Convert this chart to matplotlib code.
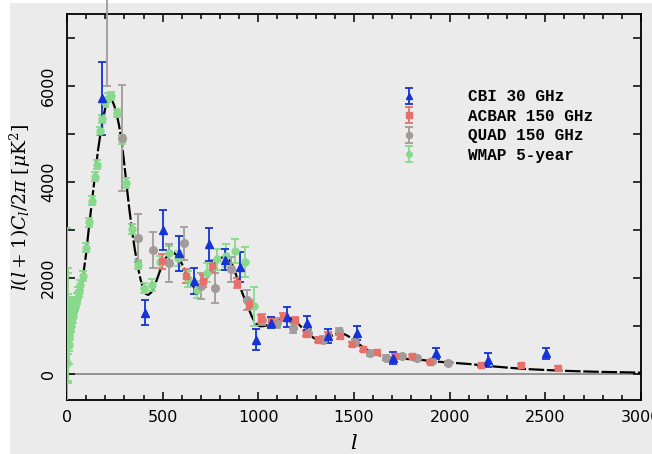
import numpy as np
import matplotlib.pyplot as plt
from matplotlib.patches import Rectangle
from matplotlib.ticker import MultipleLocator, FuncFormatter

# best-fit model curve: (l, D_l) pairs
model = [(2, 1000), (5, 980), (10, 960), (15, 970), (20, 1000), (30, 1080), (40, 1180),
         (50, 1300), (62, 1550), (75, 1800), (88, 2150), (100, 2500), (112, 2950),
         (125, 3400), (138, 3850), (150, 4250), (162, 4650), (175, 5000), (188, 5300),
         (200, 5530), (212, 5690), (222, 5740), (235, 5700), (248, 5570), (260, 5400),
         (272, 5170), (285, 4850), (297, 4450), (310, 3980), (325, 3450), (340, 2980),
         (355, 2570), (370, 2230), (385, 1950), (400, 1750), (412, 1660), (425, 1640),
         (440, 1690), (455, 1800), (470, 1960), (485, 2130), (500, 2280), (515, 2400),
         (530, 2480), (545, 2520), (560, 2510), (575, 2460), (590, 2370), (605, 2250),
         (620, 2110), (635, 1980), (650, 1870), (665, 1790), (680, 1750), (695, 1760),
         (710, 1820), (725, 1930), (740, 2060), (755, 2190), (770, 2290), (785, 2360),
         (800, 2400), (815, 2425), (830, 2430), (845, 2390), (860, 2300), (875, 2160),
         (890, 1980), (905, 1800), (920, 1640), (935, 1500), (950, 1350), (965, 1200),
         (980, 1080), (995, 1010), (1010, 985), (1030, 990), (1050, 1010), (1070, 1040),
         (1090, 1080), (1110, 1120), (1130, 1150), (1150, 1160), (1170, 1150),
         (1190, 1100), (1210, 1030), (1230, 950), (1250, 870), (1270, 800), (1290, 740),
         (1310, 710), (1330, 700), (1350, 720), (1370, 760), (1390, 800), (1410, 830),
         (1430, 840), (1450, 820), (1470, 780), (1490, 720), (1510, 660), (1530, 600),
         (1550, 540), (1575, 480), (1600, 430), (1625, 390), (1650, 360), (1675, 340),
         (1700, 325), (1750, 310), (1800, 300), (1850, 285), (1900, 265), (1950, 245),
         (2000, 230), (2100, 200), (2200, 160), (2300, 125), (2400, 95), (2500, 75),
         (2600, 58), (2700, 45), (2800, 35), (2900, 28), (3000, 20)]
model_l = [p[0] for p in model]
model_d = [p[1] for p in model]

# CBI 30 GHz
cbi_l = [181, 408, 500, 585, 664, 744, 826, 906, 986, 1065, 1152, 1252, 1366, 1518, 1706,
         1929, 2202, 2504]
cbi_d = [5730, 1265, 2990, 2510, 1920, 2690, 2375, 2220, 710, 1060, 1180, 1060, 780, 850,
         330, 420, 290, 420]
cbi_e = [750, 260, 410, 365, 270, 350, 215, 320, 220, 115, 205, 145, 150, 145, 125, 120,
         145, 120]

# ACBAR 150 GHz
acbar_l = [495, 622, 713, 756, 890, 951, 1014, 1066, 1127, 1192, 1250, 1314, 1366, 1427,
           1488, 1549, 1622, 1714, 1801, 1897, 2164, 2372, 2568]
acbar_d = [2340, 2030, 1925, 2240, 1890, 1440, 1140, 1090, 1180, 1110, 835, 710, 810, 780,
           620, 520, 450, 375, 360, 245, 170, 170, 120]
acbar_e = [160, 140, 130, 130, 110, 100, 90, 80, 75, 70, 60, 55, 55, 50, 45, 40, 38, 35,
           35, 32, 30, 30, 30]

# QUAD 150 GHz
quad_l = [207, 286, 373, 451, 533, 613, 699, 775, 855, 939, 1018, 1100, 1183, 1260, 1340,
          1423, 1505, 1584, 1668, 1749, 1828, 1906, 1993]
quad_d = [8200, 4910, 2830, 2570, 2300, 2710, 1820, 1790, 2170, 1540, 1125, 1055, 950, 845,
          710, 880, 655, 420, 330, 360, 315, 260, 225]
quad_e = [2200, 1100, 500, 370, 390, 350, 270, 310, 260, 210, 110, 100, 100, 90, 80, 80,
          70, 55, 50, 50, 45, 40, 40]

# WMAP 5-year
wmap_l = [2, 3, 4, 5, 6, 7, 8, 9, 10, 11, 12, 13, 14, 15, 16, 17, 18, 19, 20, 22, 24, 26,
          28, 30, 33, 36, 40, 45, 50, 55, 61, 70, 84, 100, 115, 130, 145, 158, 172, 185,
          200, 215, 230, 260, 286, 308, 338, 369, 402, 443, 486, 533, 582, 631, 678, 730,
          782, 829, 878, 930, 979]
wmap_d = [230, 1000, 750, 1400, 950, 1150, 600, 1200, 800, 1050, 1300, 900, 1000, 1100,
          1250, 1100, 900, 1150, 1300, 1050, 1150, 1250, 1350, 1200, 1300, 1400, 1450,
          1480, 1560, 1700, 1700, 1850, 2030, 2620, 3150, 3600, 4100, 4350, 5050, 5300,
          5650, 5750, 5780, 5430, 4875, 3970, 3010, 2270, 1780, 1850, 2320, 2510, 2400,
          1970, 1750, 2100, 2380, 2450, 2550, 2320, 1400]
wmap_e = [2800, 1200, 900, 700, 550, 450, 400, 350, 330, 300, 280, 260, 250, 240, 230, 220,
          210, 200, 200, 190, 180, 170, 160, 150, 150, 140, 130, 120, 110, 110, 100, 100,
          100, 90, 90, 90, 90, 90, 90, 90, 90, 90, 90, 90, 90, 95, 100, 100, 110, 120, 130,
          140, 150, 160, 180, 200, 220, 240, 250, 310, 410]

c_cbi = "#1533d6"
c_acbar = "#e6716b"
c_quad = "#a39b99"
c_wmap = "#88d98b"
bg = "#ebebeb"

plt.rcParams["mathtext.fontset"] = "dejavuserif"

fig = plt.figure(figsize=(6.52, 4.54), dpi=100, facecolor="white")
fig.patches.append(Rectangle((10 / 652, 0), 1, 1 - 3 / 454, transform=fig.transFigure,
                             facecolor=bg, edgecolor="none", zorder=-10))
ax = fig.add_axes([67 / 652, 1 - 400 / 454, 574 / 652, 386 / 454])
ax.set_facecolor(bg)

ax.axhline(0, color="#7a7a7a", lw=1.1, zorder=1)
ax.plot(model_l, model_d, color="black", lw=1.6, ls=(0, (7, 1.2)), zorder=2)

eb = dict(ls="none", elinewidth=1.3, capsize=2.8, capthick=1.3, zorder=3)
ax.errorbar(wmap_l, wmap_d, yerr=wmap_e, fmt="o", ms=5, color=c_wmap,
            label="WMAP 5-year", **eb)
q = ax.errorbar(quad_l, quad_d, yerr=quad_e, fmt="o", ms=5.5, color=c_quad,
                label="QUAD 150 GHz", **eb)
for part in q.lines[2]:
    part.set_clip_on(False)
ax.errorbar(acbar_l, acbar_d, yerr=acbar_e, fmt="s", ms=5, color=c_acbar,
            label="ACBAR 150 GHz", **eb)
ax.errorbar(cbi_l, cbi_d, yerr=cbi_e, fmt="^", ms=5.5, color=c_cbi,
            label="CBI 30 GHz", **eb)

ax.set_xlim(0, 3000)
ax.set_ylim(-550, 7490)
ax.xaxis.set_major_locator(MultipleLocator(500))
ax.xaxis.set_minor_locator(MultipleLocator(100))
ax.yaxis.set_major_locator(MultipleLocator(1000))
ax.xaxis.set_major_formatter(FuncFormatter(lambda v, p: "%d" % v))
ax.yaxis.set_major_formatter(FuncFormatter(lambda v, p: "%d" % v if v % 2000 == 0 else ""))
ax.tick_params(which="both", direction="in", top=True, right=True, width=1.1,
               labelsize=11.5, colors="black")
ax.tick_params(which="major", length=6)
ax.tick_params(which="minor", length=3.5)
ax.tick_params(axis="x", pad=7)
ax.tick_params(axis="y", pad=8)
for lab in ax.get_yticklabels():
    lab.set_rotation(90)
    lab.set_va("center")
for s in ax.spines.values():
    s.set_linewidth(1.3)

ax.set_xlabel(r"$l$", fontsize=15, labelpad=6)
ax.set_ylabel(r"$l(l+1)C_l/2\pi\ [\mu{\rm K}^2]$", fontsize=13.5, labelpad=6)

h, lbl = ax.get_legend_handles_labels()
ax.legend(h[::-1], lbl[::-1], loc="upper left", bbox_to_anchor=(0.585, 0.805),
          frameon=False, handlelength=0.8, handletextpad=3.3, labelspacing=0.28,
          borderpad=0, borderaxespad=0, markerscale=0.8,
          prop={"family": "Liberation Mono", "size": 11.5, "weight": "bold"})

fig.savefig("out.png", dpi=100, facecolor=fig.get_facecolor())
